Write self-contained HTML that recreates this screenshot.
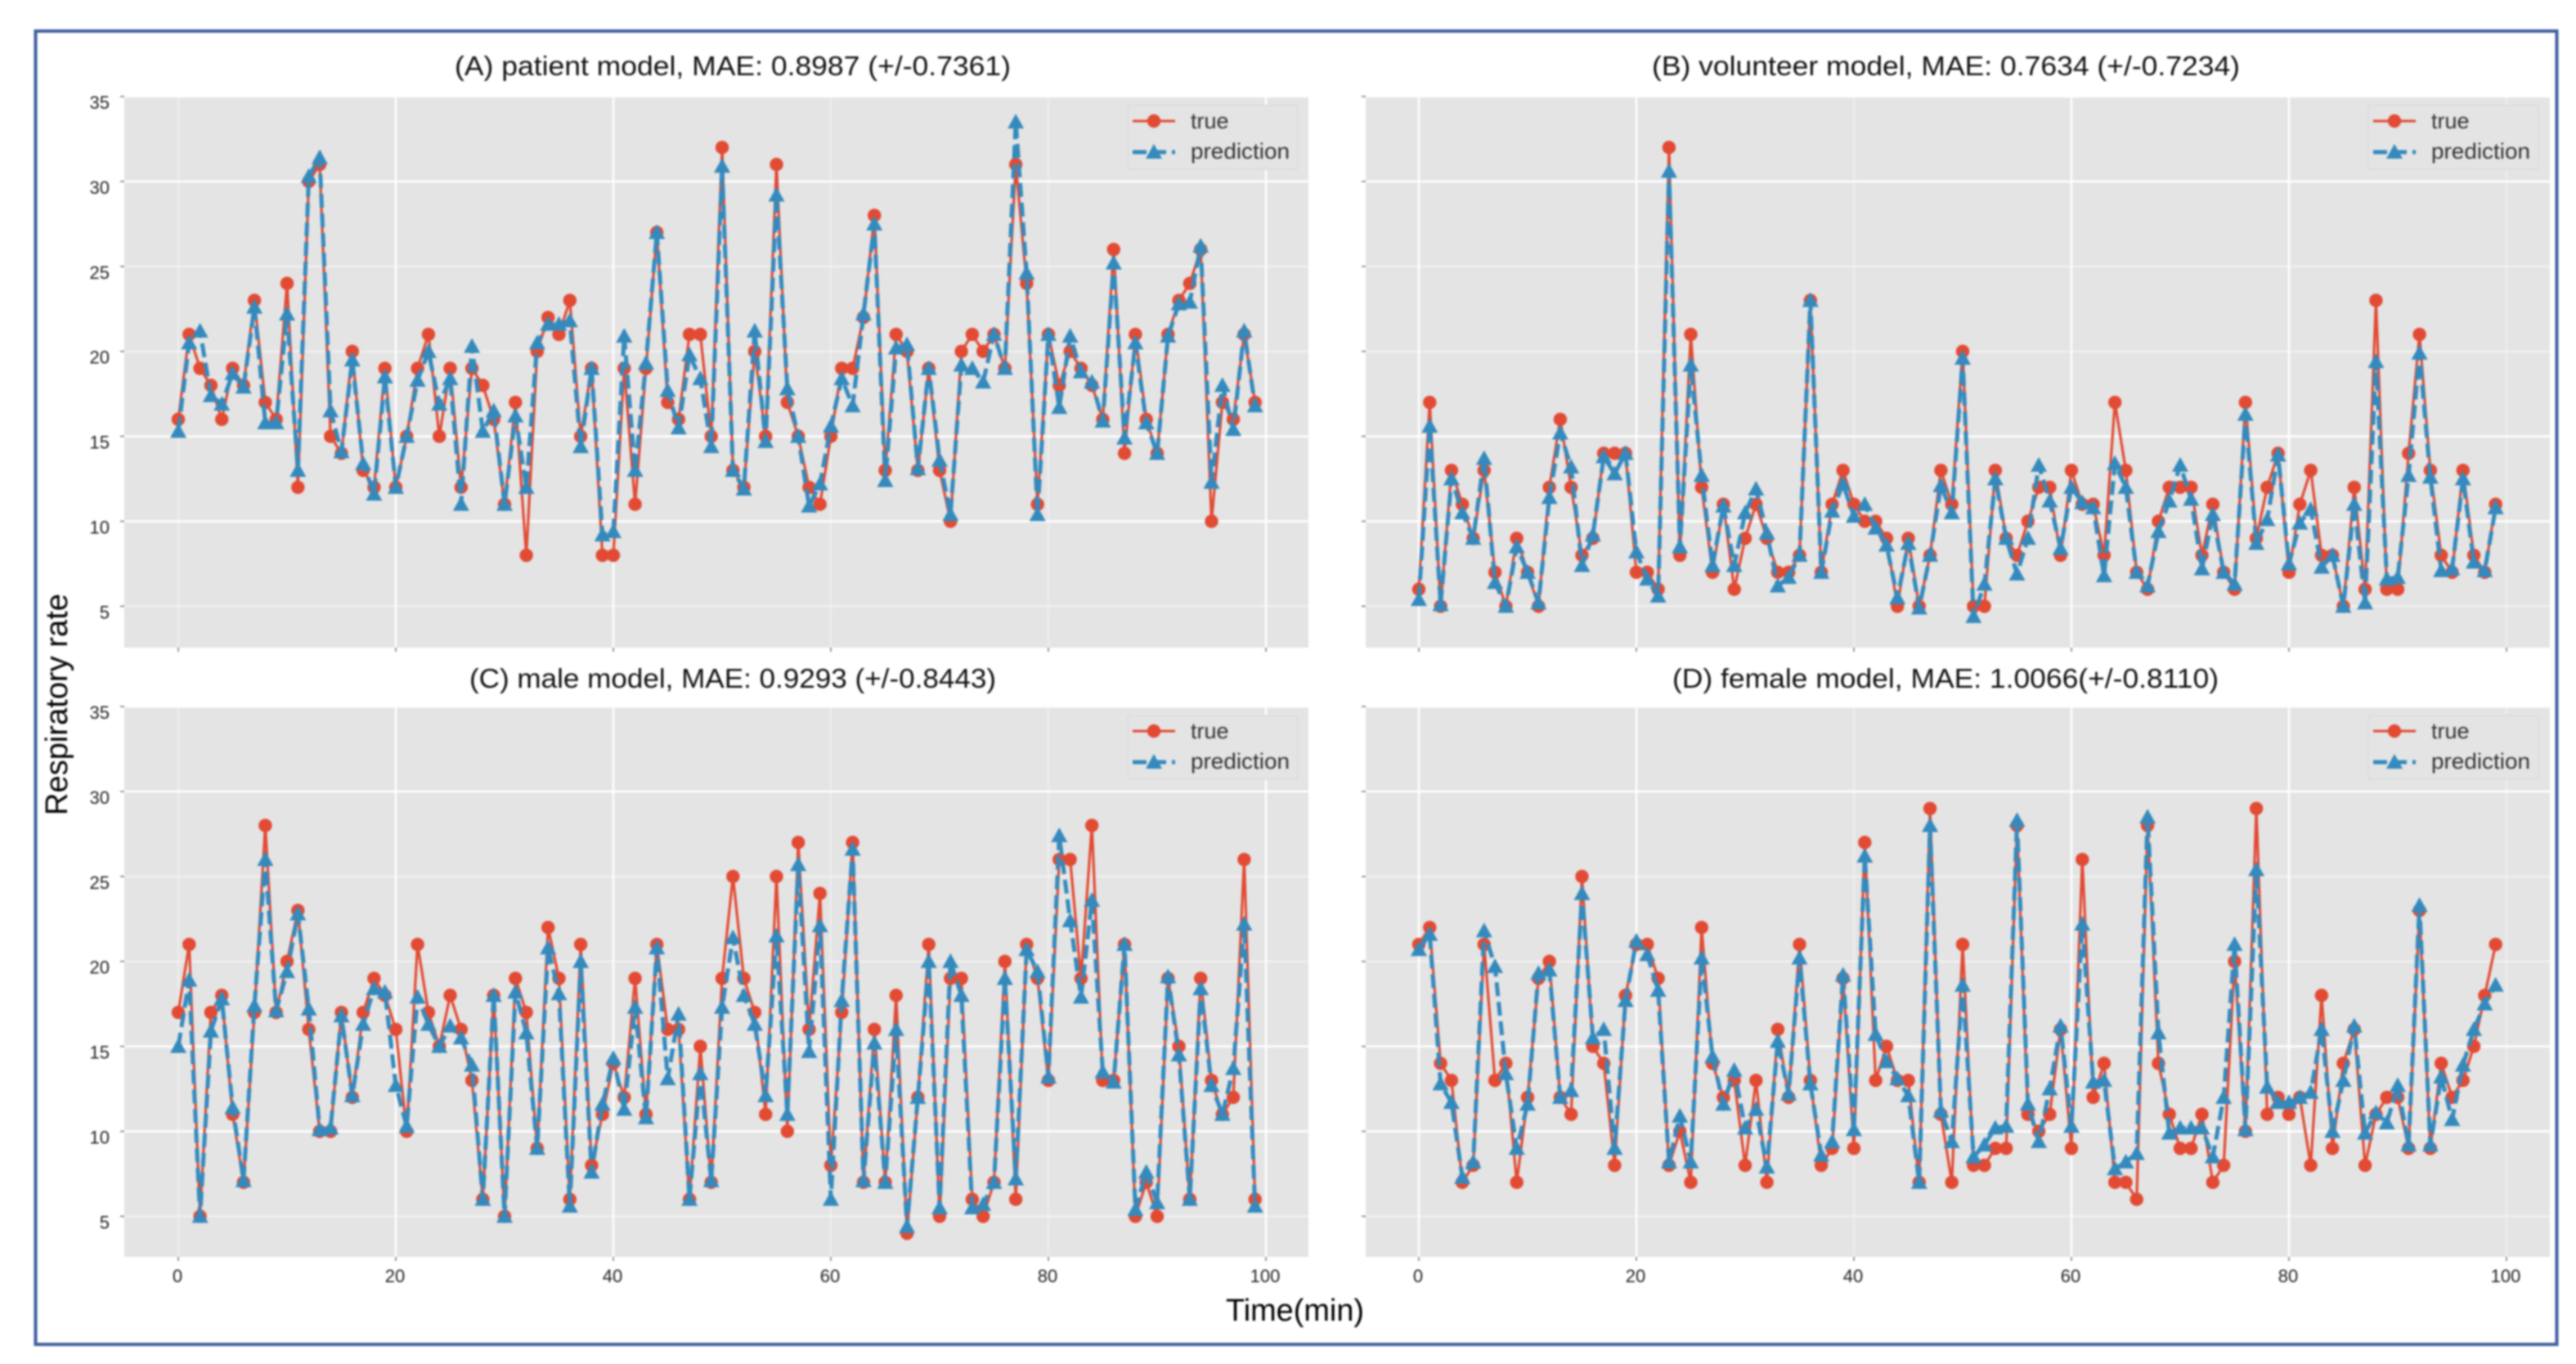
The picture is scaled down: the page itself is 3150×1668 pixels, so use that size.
<!DOCTYPE html>
<html lang="en">
<head>
<meta charset="utf-8">
<title>Respiratory rate model comparison</title>
<style>
html,body{margin:0;padding:0;background:#fff;width:3150px;height:1668px;overflow:hidden}
svg{display:block;font-family:"Liberation Sans",sans-serif}
#art{filter:blur(1.1px)}
.title{font-size:33px;fill:#111}
.tick{font-size:22px;fill:#222}
.axis{font-size:38px;fill:#000}
.leg{font-size:27px;fill:#333}
</style>
</head>
<body>
<svg id="chart" xmlns="http://www.w3.org/2000/svg" width="3150" height="1668" viewBox="0 0 3150 1668">
<g id="art">
<rect x="43.5" y="38" width="3083" height="1606" fill="#fff" stroke="#3F5FA0" stroke-width="4"/>
<g id="panel-a"></g>
<g id="panel-b"></g>
<g id="panel-c"></g>
<g id="panel-d"></g>
<text class="title" x="556" y="92" textLength="680" lengthAdjust="spacingAndGlyphs">(A) patient model, MAE: 0.8987 (+/-0.7361)</text>
<text class="title" x="2020" y="92" textLength="719" lengthAdjust="spacingAndGlyphs">(B) volunteer model, MAE: 0.7634 (+/-0.7234)</text>
<text class="title" x="574" y="841" textLength="644" lengthAdjust="spacingAndGlyphs">(C) male model, MAE: 0.9293 (+/-0.8443)</text>
<text class="title" x="2045" y="841" textLength="668" lengthAdjust="spacingAndGlyphs">(D) female model, MAE: 1.0066(+/-0.8110)</text>
<text class="axis" transform="translate(82,997) rotate(-90)" textLength="271" lengthAdjust="spacingAndGlyphs">Respiratory rate</text>
<text class="axis" x="1499" y="1615" textLength="169" lengthAdjust="spacingAndGlyphs">Time(min)</text>
</g>
</svg>
<script>
const xTickValues = [0, 20, 40, 60, 80, 100];
const yTickValues = [5, 10, 15, 20, 25, 30, 35];
const legendLabels = ['true', 'prediction'];

const trueA = [16,21,19,18,16,19,18,23,17,16,24,12,30,31,15,14,20,13,12,19,12,15,19,21,15,19,12,19,18,16,11,17,8,20,22,21,23,15,19,8,8,19,11,19,27,17,16,21,21,15,32,13,12,20,15,31,17,15,12,11,15,19,19,22,28,13,21,20,13,19,13,10,20,21,20,21,19,31,24,11,21,18,20,19,18,16,26,14,21,16,14,21,23,24,26,10,17,16,21,17];
const predA = [15.3,20.5,21.2,17.4,16.9,18.7,17.9,22.6,15.8,15.8,22.2,13,30.3,31.4,16.5,14.1,19.5,13.4,11.6,18.5,12,15,18.3,20,16.9,18.4,11,20.3,15.3,16.5,11,16.2,12,20.5,21.6,21.6,21.8,14.4,19,9.2,9.4,20.9,13,19.3,27,17.7,15.5,19.8,18.4,14.4,30.9,13,11.9,21.2,14.7,29.2,17.8,15,10.9,12.2,15.6,18.4,16.8,22.2,27.5,12.4,20.2,20.4,13.1,19,13.6,10.4,19.2,19,18.2,21,19,33.5,24.6,10.4,21,16.7,20.9,18.8,18.2,15.9,25.2,14.9,20.5,15.8,14,20.9,22.8,22.9,26.2,12.3,18,15.4,21.2,16.8];

const trueB = [6,17,5,13,11,9,13,7,5,9,7,5,12,16,12,8,9,14,14,14,7,7,6,32,8,21,12,7,11,6,9,11,9,7,7,8,23,7,11,13,11,10,10,9,5,9,5,8,13,11,20,5,5,13,9,8,10,12,12,8,13,11,11,8,17,13,7,6,10,12,12,12,8,11,7,6,17,9,12,14,7,11,13,8,8,5,12,6,23,6,6,14,21,13,8,7,13,8,7,11];
const predB = [5.4,15.6,5.1,12.5,10.5,9,13.7,6.4,5,8.5,7,5.2,11.4,15.2,13.2,7.4,9.2,13.8,12.8,14,8.2,6.6,5.6,30.6,8.5,19.2,12.7,7.4,10.9,7.4,10.5,11.9,9.3,6.2,6.7,8,23,7,10.6,12.2,10.3,11,9.6,8.6,5.5,8.7,4.9,8,12.1,10.5,19.6,4.4,6.3,12.5,9,6.9,9,13.3,11.2,8.4,12,11.1,10.8,6.8,13.4,12,7,6.2,9.4,11.2,13.3,11.3,7.2,10.4,7,6.3,16.3,8.7,10.1,13.9,7.5,9.9,10.7,7.3,8,5,11,5.2,19.4,6.6,6.7,12.7,19.9,12.6,7.1,7.2,12.5,7.6,7.1,10.8];

const trueC = [17,21,5,17,18,11,7,17,28,17,20,23,16,10,10,17,12,17,19,18,16,10,21,17,15,18,16,13,6,18,5,19,17,9,22,19,6,21,8,11,14,12,19,11,21,16,16,6,15,7,19,25,19,17,11,25,10,27,16,24,8,17,27,7,16,7,18,4,12,21,5,19,19,6,5,7,20,6,21,19,13,26,26,19,28,13,13,21,5,7,5,19,15,6,19,13,11,12,26,6];
const predC = [15,18.9,5,15.9,17.8,11.4,7.1,17.4,26,17.1,19.4,22.8,17.2,10.1,10.2,16.8,12.1,16.3,18.4,18.2,12.7,10.3,17.9,16.3,15,16.2,15.5,13.9,6,18,5,18.2,15.8,9,20.8,18.1,5.6,20,7.6,11.6,14.3,11.3,17.3,10.8,20.8,13.1,16.9,6,13.4,7.1,17.3,21.4,18,16.3,12.1,21.5,11,25.7,14.7,22.1,6,17.7,26.6,7.1,15.2,7,16,4.4,12,20,5.5,20,18,5.5,5.7,7,19,7.2,20.7,19.4,13.2,27.4,22.4,17.9,23.6,13.5,12.9,21,5.4,7.6,5.8,19.1,14.5,6,18.4,12.7,11,13.7,22.2,5.6];

const trueD = [21,22,14,13,7,8,21,13,14,7,12,19,20,12,11,25,15,14,8,18,21,21,19,8,10,7,22,14,12,13,8,13,7,16,12,21,13,8,9,19,9,27,13,15,13,13,7,29,11,7,21,8,8,9,9,28,11,10,11,16,9,26,12,14,7,7,6,28,14,11,9,9,11,7,8,20,10,29,11,12,11,12,8,18,9,14,16,8,11,12,12,9,23,9,14,12,13,15,18,21];
const predD = [20.7,21.6,12.8,11.7,7.3,8.2,21.8,19.7,13.4,9,11.6,19.3,19.5,12,12.4,24,15.5,16,9,17.7,21.2,20.4,18.3,8.2,10.9,8.2,20.2,14.4,11.6,13.6,10.2,11.3,7.9,15.3,12.2,20.2,12.8,8.6,9.4,19.2,10.1,26.2,15.7,14.1,13.1,12.1,7,28,11.2,9.4,18.6,8.5,9.2,10.2,10.3,28.3,11.6,9.4,12.5,16.2,10.3,22.2,12.9,13,7.8,8.2,8.7,28.5,15.8,9.9,10.2,10.2,10.2,8.5,12,21,10.1,25.4,12.6,11.7,11.7,12,12.3,16,10,13,16.2,9.9,11.1,10.5,12.7,9.2,23.3,9.2,13.2,10.7,13.9,16,17.5,18.6];

const SVG_NS = 'http://www.w3.org/2000/svg';
const RED = '#E24A33';
const BLUE = '#348ABD';

function make(parent, tag, attrs, text) {
  const el = document.createElementNS(SVG_NS, tag);
  for (const k in attrs) el.setAttribute(k, attrs[k]);
  if (text !== undefined) el.textContent = text;
  parent.appendChild(el);
  return el;
}

function triPoints(cx, cy) {
  return (cx - 10) + ',' + (cy + 8) + ' ' + cx + ',' + (cy - 10) + ' ' + (cx + 10) + ',' + (cy + 8);
}

function drawPanel(host, left, right, top, bottom, x0, legendLeft, showXLabels, showYLabels, faintX, seriesTrue, seriesPred) {
  const xScale = function (v) { return x0 + v * 13.3; };
  const yScale = function (v) { return top + (35 - v) * 20.78; };

  const bg = make(host, 'rect', { x: left, y: top, width: right - left, height: bottom - top, fill: '#E4E4E4' });
  
  

  yTickValues.forEach(function (v) {
    const y = yScale(v);
    const faint = v === 5 || v === 20 || v === 25;
    const grid = make(host, 'line', { x1: left, x2: right, y1: y, y2: y, stroke: '#fff', 'stroke-width': 2.5, 'stroke-opacity': faint ? 0.45 : 1 });
    
    
    const tick = make(host, 'line', { x1: left - 5, x2: left, y1: y, y2: y, stroke: '#777', 'stroke-width': 1.5 });
    
    
    if (showYLabels) {
      const label = make(host, 'text', { x: left - 18, y: y + 15, 'text-anchor': 'end', class: 'tick' }, String(v));
      
      
    }
  });

  xTickValues.forEach(function (v) {
    const x = xScale(v);
    const grid = make(host, 'line', { x1: x, x2: x, y1: top, y2: bottom, stroke: '#fff', 'stroke-width': 2.5, 'stroke-opacity': faintX.indexOf(v) >= 0 ? 0.3 : 1 });
    
    
    const tick = make(host, 'line', { x1: x, x2: x, y1: bottom, y2: bottom + 5, stroke: '#777', 'stroke-width': 1.5 });
    
    
    if (showXLabels) {
      const label = make(host, 'text', { x: x - 1, y: bottom + 31, 'text-anchor': 'middle', class: 'tick' }, String(v));
      
      
    }
  });

  const truePath = seriesTrue.map(function (v, i) { return xScale(i) + ',' + yScale(v); }).join(' ');
  const trueLine = make(host, 'polyline', { points: truePath, fill: 'none', stroke: RED, 'stroke-width': 3.2, 'stroke-linejoin': 'round' });
  
  
  seriesTrue.forEach(function (v, i) {
    const dot = make(host, 'circle', { cx: xScale(i), cy: yScale(v), r: 8.2, fill: RED });
    
    
  });

  const predPath = seriesPred.map(function (v, i) { return xScale(i) + ',' + yScale(v); }).join(' ');
  const predLine = make(host, 'polyline', { points: predPath, fill: 'none', stroke: BLUE, 'stroke-width': 5, 'stroke-dasharray': '17 7' });
  
  
  seriesPred.forEach(function (v, i) {
    const tri = make(host, 'polygon', { points: triPoints(xScale(i), yScale(v)), fill: BLUE });
    
    
  });

  const lt = top + 11;
  const legend = make(host, 'g', {});
  
  
  const box = make(legend, 'rect', { x: legendLeft, y: lt, width: 208, height: 78, fill: '#E4E4E4', stroke: '#D9D9D9', 'stroke-width': 1.5, rx: 3 });
  
  
  const l1 = make(legend, 'line', { x1: legendLeft + 6, x2: legendLeft + 58, y1: lt + 19, y2: lt + 19, stroke: RED, 'stroke-width': 3 });
  
  
  const m1 = make(legend, 'circle', { cx: legendLeft + 32, cy: lt + 19, r: 8.2, fill: RED });
  
  
  const t1 = make(legend, 'text', { x: legendLeft + 77, y: lt + 28, class: 'leg' }, legendLabels[0]);
  
  
  const l2 = make(legend, 'line', { x1: legendLeft + 6, x2: legendLeft + 58, y1: lt + 57, y2: lt + 57, stroke: BLUE, 'stroke-width': 5, 'stroke-dasharray': '17 7' });
  
  
  const m2 = make(legend, 'polygon', { points: triPoints(legendLeft + 32, lt + 57), fill: BLUE });
  
  
  const t2 = make(legend, 'text', { x: legendLeft + 77, y: lt + 65, class: 'leg', textLength: 121, lengthAdjust: 'spacingAndGlyphs' }, legendLabels[1]);
  
  
}

drawPanel(document.getElementById('panel-a'), 152, 1600, 118, 792, 218, 1379, false, true, [0, 60, 80], trueA, predA);
drawPanel(document.getElementById('panel-b'), 1670, 3118, 118, 792, 1735, 2896, false, false, [40, 100], trueB, predB);
drawPanel(document.getElementById('panel-c'), 152, 1600, 864, 1537, 218, 1379, true, true, [0, 60, 80], trueC, predC);
drawPanel(document.getElementById('panel-d'), 1670, 3118, 864, 1537, 1735, 2896, true, false, [40, 100], trueD, predD);
</script>
</body>
</html>
